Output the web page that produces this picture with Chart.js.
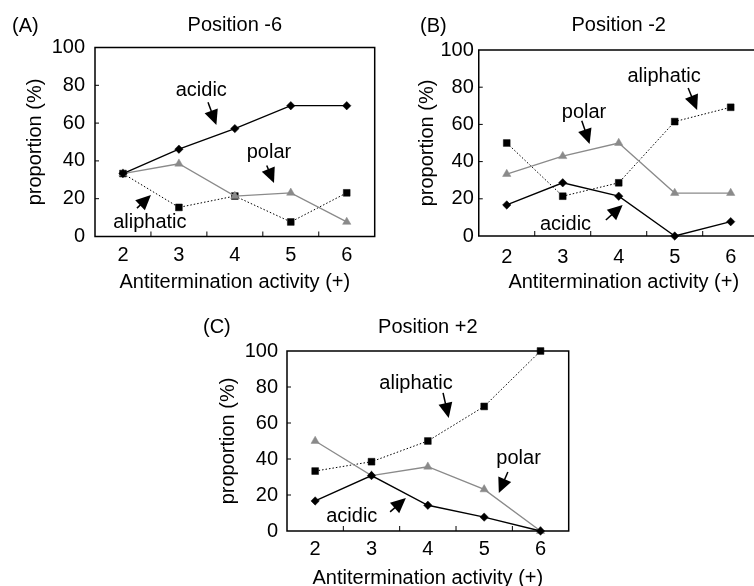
<!DOCTYPE html>
<html><head><meta charset="utf-8">
<script src="https://cdn.jsdelivr.net/npm/chart.js@4/dist/chart.umd.min.js"></script>
<style>
html,body{margin:0;padding:0;background:#fff;width:754px;height:586px;overflow:hidden;position:relative}
canvas{position:absolute;display:block}
</style></head><body>
<canvas id="cA" width="380" height="300" style="left:0;top:0"></canvas>
<canvas id="cB" width="384" height="300" style="left:380px;top:0"></canvas>
<canvas id="cC" width="384" height="291" style="left:190px;top:295px"></canvas>
<script>
// ---- data ----
const categories = ['2', '3', '4', '5', '6'];
const yTicks = [0, 20, 40, 60, 80, 100];
const acidicA    = [33.3, 46.2, 57.1, 69.2, 69.2];
const polarA     = [33.3, 38.5, 21.4, 23.1, 7.7];
const aliphaticA = [33.3, 15.4, 21.4, 7.7, 23.1];
const acidicB    = [16.7, 28.6, 21.4, 0, 7.7];
const polarB     = [33.3, 42.9, 50, 23.1, 23.1];
const aliphaticB = [50, 21.4, 28.6, 61.5, 69.2];
const acidicC    = [16.7, 30.8, 14.3, 7.7, 0];
const polarC     = [50, 30.8, 35.7, 23.1, 0];
const aliphaticC = [33.3, 38.5, 50, 69.2, 100];
const xTitle = 'Antitermination activity (+)';
const yTitle = 'proportion (%)';

const FONT = '"Liberation Sans", Arial, Helvetica, sans-serif';
const GRAY = '#8a8a8a';

function arrow(ctx, x1, y1, x2, y2) {
  const a = Math.atan2(y2 - y1, x2 - x1);
  const hl = 15, hw = 7;
  const bx = x2 - hl * Math.cos(a), by = y2 - hl * Math.sin(a);
  ctx.beginPath();
  ctx.moveTo(x1, y1); ctx.lineTo(bx + 2 * Math.cos(a), by + 2 * Math.sin(a));
  ctx.lineWidth = 1.5; ctx.stroke();
  ctx.beginPath();
  ctx.moveTo(x2, y2);
  ctx.lineTo(bx + hw * Math.sin(a), by - hw * Math.cos(a));
  ctx.lineTo(bx - hw * Math.sin(a), by + hw * Math.cos(a));
  ctx.closePath(); ctx.fill();
}

function makePanel(id, p) {
  const plugin = {
    id: 'panel' + id,
    beforeDatasetsDraw(chart) {
      const { ctx, chartArea: a } = chart;
      const x = chart.scales.x, y = chart.scales.y;
      ctx.save();
      ctx.strokeStyle = '#000';
      ctx.lineWidth = 1.5;
      ctx.strokeRect(a.left, a.top, a.right - a.left, a.bottom - a.top);
      ctx.lineWidth = 1;
      ctx.beginPath();
      for (const v of yTicks.slice(1, -1)) {
        const py = y.getPixelForValue(v);
        ctx.moveTo(a.left, py); ctx.lineTo(a.left + 4, py);
      }
      for (let i = 0; i < categories.length - 1; i++) {
        const px = x.getPixelForValue(i + 0.5);
        ctx.moveTo(px, a.bottom); ctx.lineTo(px, a.bottom - 5);
      }
      ctx.stroke();
      ctx.restore();
    },
    afterDatasetsDraw(chart) {
      const { ctx, chartArea: a } = chart;
      const x = chart.scales.x, y = chart.scales.y;
      const X = v => x.getPixelForValue(v), Y = v => y.getPixelForValue(v);
      ctx.save();
      ctx.fillStyle = '#000'; ctx.strokeStyle = '#000';
      ctx.font = '20px ' + FONT;
      ctx.textBaseline = 'middle';
      ctx.textAlign = 'left';
      ctx.fillText(p.letter, p.letterPos[0], p.letterPos[1]);
      ctx.textAlign = 'center';
      ctx.fillText(p.title, (a.left + a.right) / 2 + p.titleDx, p.titleY);
      ctx.fillText(xTitle, (a.left + a.right) / 2 + p.xTitleDx, p.xTitleY);
      ctx.save();
      ctx.translate(p.yTitleX, (a.top + a.bottom) / 2);
      ctx.rotate(-Math.PI / 2);
      ctx.fillText(yTitle, 0, 0);
      ctx.restore();
      ctx.textBaseline = 'alphabetic';
      for (const t of p.notes) {
        ctx.fillText(t.text, X(t.at[0]), Y(t.at[1]));
        arrow(ctx, X(t.from[0]), Y(t.from[1]), X(t.to[0]), Y(t.to[1]));
      }
      ctx.restore();
    }
  };
  const datasets = [
    { label: 'acidic', data: p.acidic, borderColor: '#000', borderWidth: 1.3,
      pointStyle: 'rectRot', pointRadius: 4.2, pointBackgroundColor: '#000', pointBorderColor: '#000', pointBorderWidth: 0.5 },
    { label: 'polar', data: p.polar, borderColor: GRAY, borderWidth: 1.3,
      pointStyle: 'triangle', pointRadius: 4.8, pointBackgroundColor: GRAY, pointBorderColor: GRAY, pointBorderWidth: 0.5 },
    { label: 'aliphatic', data: p.aliphatic, borderColor: '#000', borderWidth: 1, borderDash: [1.5, 2],
      pointStyle: 'rect', pointRadius: 4.8, pointBackgroundColor: '#000', pointBorderColor: '#000', pointBorderWidth: 0.5 }
  ];
  datasets.forEach(d => { d.clip = false; d.tension = 0; d.fill = false; });
  return new Chart(document.getElementById(id), {
    type: 'line',
    data: { labels: categories, datasets },
    options: {
      responsive: false, animation: false, devicePixelRatio: 1,
      layout: { padding: p.pad },
      plugins: { legend: { display: false }, title: { display: false }, tooltip: { enabled: false } },
      scales: {
        x: { type: 'category', offset: true,
             grid: { display: false, drawTicks: false }, border: { display: false },
             ticks: { color: '#000', font: { family: FONT, size: 20 }, padding: p.xPad, maxRotation: 0, autoSkip: false },
             afterFit(s) { s.height = p.xH; } },
        y: { min: 0, max: 100,
             grid: { display: false, drawTicks: false }, border: { display: false },
             afterBuildTicks(s) { s.ticks = yTicks.map(v => ({ value: v })); },
             ticks: { color: '#000', font: { family: FONT, size: 20 }, padding: p.yPad },
             afterFit(s) { s.width = p.yW; } }
      }
    },
    plugins: [plugin]
  });
}

makePanel('cA', {
  acidic: acidicA, polar: polarA, aliphatic: aliphaticA,
  letter: '(A)', title: 'Position -6',
  pad: { left: 0, top: 47.5, right: 3, bottom: 27.5 }, yW: 95, xH: 36, xPad: 7, yPad: 10,
  letterPos: [12, 26], titleDx: 0, titleY: 25, xTitleDx: 0, xTitleY: 282, yTitleX: 35,
  notes: [
    { text: 'acidic', at: [1.40, 74.3], from: [1.52, 71], to: [1.67, 59] },
    { text: 'polar', at: [2.61, 41.5], from: [2.57, 37.6], to: [2.70, 28.3] },
    { text: 'aliphatic', at: [0.48, 4.5], from: [0.25, 15], to: [0.50, 22] }
  ]
});
makePanel('cB', {
  acidic: acidicB, polar: polarB, aliphatic: aliphaticB,
  letter: '(B)', title: 'Position -2',
  pad: { left: 0, top: 50, right: 3, bottom: 28 }, yW: 98.75, xH: 36, xPad: 9, yPad: 5,
  letterPos: [40, 26], titleDx: 0, titleY: 25, xTitleDx: 5, xTitleY: 282, yTitleX: 47,
  notes: [
    { text: 'aliphatic', at: [2.81, 82.8], from: [3.24, 79.6], to: [3.40, 67.7] },
    { text: 'polar', at: [1.38, 63.4], from: [1.34, 62], to: [1.48, 49.5] },
    { text: 'acidic', at: [1.05, 3.2], from: [1.77, 8.6], to: [2.07, 16.7] }
  ]
});
makePanel('cC', {
  acidic: acidicC, polar: polarC, aliphatic: aliphaticC,
  letter: '(C)', title: 'Position +2',
  pad: { left: 0, top: 56, right: 5, bottom: 19 }, yW: 97, xH: 36, xPad: 6.5, yPad: 9,
  letterPos: [13, 32], titleDx: 0, titleY: 32, xTitleDx: 0, xTitleY: 283, yTitleX: 38,
  notes: [
    { text: 'aliphatic', at: [1.79, 78.9], from: [2.27, 76.7], to: [2.37, 62.8] },
    { text: 'polar', at: [3.61, 37.2], from: [3.42, 32.8], to: [3.26, 21.1] },
    { text: 'acidic', at: [0.65, 5], from: [1.33, 10.6], to: [1.61, 18.3] }
  ]
});
</script>
</body></html>
